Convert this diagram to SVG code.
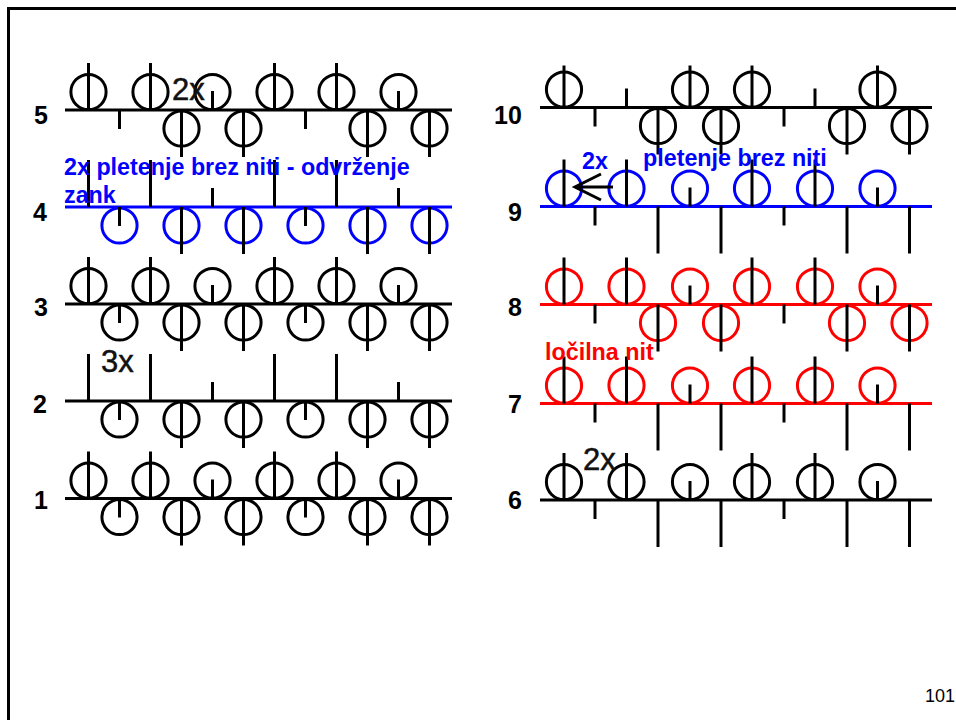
<svg xmlns="http://www.w3.org/2000/svg" width="956" height="720" viewBox="0 0 956 720">
<style>
text{font-family:"Liberation Sans",Arial,sans-serif}
.n{font-size:25px;font-weight:bold;fill:#000}
.x{font-size:31px;fill:#111;stroke:#111;stroke-width:.5}
.lb{font-size:23.3px;font-weight:bold}
.s{stroke:#000;stroke-width:3;fill:none}
.c{fill:none;stroke-width:3}
.k{stroke:#000}.b{stroke:#0000ff}.r{stroke:#ff0000}
.base{stroke-width:3}
</style>
<defs>
<circle id="cu" class="c" cx="0" cy="-18" r="17.6"/>
<circle id="cd" class="c" cx="0" cy="18.5" r="17.6"/>
<line id="ul" class="s" x1="0" y1="0" x2="0" y2="-47"/>
<line id="um" class="s" x1="0" y1="0" x2="0" y2="-42"/>
<line id="us" class="s" x1="0" y1="0" x2="0" y2="-19"/>
<line id="dl" class="s" x1="0" y1="0" x2="0" y2="47"/>
<line id="ds" class="s" x1="0" y1="0" x2="0" y2="19"/>
<g id="luc"><use href="#cu" x="88.5"/><use href="#cu" x="150.5"/><use href="#cu" x="212.5"/><use href="#cu" x="274.5"/><use href="#cu" x="336.5"/><use href="#cu" x="398.5"/></g>
<g id="lus"><use href="#ul" x="88.5"/><use href="#ul" x="150.5"/><use href="#us" x="212.5"/><use href="#ul" x="274.5"/><use href="#ul" x="336.5"/><use href="#us" x="398.5"/></g>
<g id="ldc"><use href="#cd" x="119.5"/><use href="#cd" x="181.5"/><use href="#cd" x="243.5"/><use href="#cd" x="305.5"/><use href="#cd" x="367.5"/><use href="#cd" x="429.5"/></g>
<g id="lds"><use href="#ds" x="119.5"/><use href="#dl" x="181.5"/><use href="#dl" x="243.5"/><use href="#ds" x="305.5"/><use href="#dl" x="367.5"/><use href="#dl" x="429.5"/></g>
<g id="ruc"><use href="#cu" x="564"/><use href="#cu" x="626.5"/><use href="#cu" x="690"/><use href="#cu" x="752"/><use href="#cu" x="815"/><use href="#cu" x="877.5"/></g>
<g id="rus"><use href="#ul" x="564"/><use href="#ul" x="626.5"/><use href="#us" x="690"/><use href="#ul" x="752"/><use href="#ul" x="815"/><use href="#us" x="877.5"/></g>
<g id="rdc"><use href="#cd" x="658"/><use href="#cd" x="721"/><use href="#cd" x="847"/><use href="#cd" x="909.5"/></g>
<g id="rds"><use href="#ds" x="595"/><use href="#dl" x="658"/><use href="#dl" x="721"/><use href="#ds" x="784"/><use href="#dl" x="847"/><use href="#dl" x="909.5"/></g>
</defs>
<rect width="956" height="720" fill="#fff"/>
<path id="frame" d="M8.5 720V8.5H956" fill="none" stroke="#000" stroke-width="3"/>

<g id="row5" transform="translate(0,110)">
<g class="k"><use href="#luc"/><use href="#cd" x="181.5"/><use href="#cd" x="243.5"/><use href="#cd" x="367.5"/><use href="#cd" x="429.5"/><line class="base" x1="65" x2="452" y1="0" y2="0"/></g>
<use href="#lus"/><use href="#lds"/>
</g>
<g id="row4" transform="translate(0,207)">
<g class="b"><use href="#ldc"/><line class="base" x1="65" x2="452" y1="0" y2="0"/></g>
<use href="#lus"/><use href="#lds"/>
</g>
<g id="row3" transform="translate(0,304)">
<g class="k"><use href="#luc"/><use href="#ldc"/><line class="base" x1="65" x2="452" y1="0" y2="0"/></g>
<use href="#lus"/><use href="#lds"/>
</g>
<g id="row2" transform="translate(0,401)">
<g class="k"><use href="#ldc"/><line class="base" x1="65" x2="452" y1="0" y2="0"/></g>
<use href="#lus"/><use href="#lds"/>
</g>
<g id="row1" transform="translate(0,498.5)">
<g class="k"><use href="#luc"/><use href="#ldc"/><line class="base" x1="65" x2="452" y1="0" y2="0"/></g>
<use href="#lus"/><use href="#lds"/>
</g>

<g id="row10" transform="translate(0,107.5)">
<g class="k"><use href="#cu" x="564"/><use href="#cu" x="690"/><use href="#cu" x="752"/><use href="#cu" x="877.5"/><use href="#rdc"/><line class="base" x1="540" x2="932" y1="0" y2="0"/></g>
<use href="#um" x="564"/><use href="#us" x="626.5"/><use href="#um" x="690"/><use href="#um" x="752"/><use href="#us" x="815"/><use href="#um" x="877.5"/>
<use href="#rds"/>
</g>
<g id="row9" transform="translate(0,206.5)">
<g class="b"><use href="#ruc"/><line class="base" x1="540" x2="932" y1="0" y2="0"/></g>
<use href="#rus"/><use href="#rds"/>
</g>
<g id="row8" transform="translate(0,304.5)">
<g class="r"><use href="#ruc"/><use href="#rdc"/><line class="base" x1="540" x2="932" y1="0" y2="0"/></g>
<use href="#rus"/><use href="#rds"/>
</g>
<g id="row7" transform="translate(0,403.5)">
<g class="r"><use href="#ruc"/><line class="base" x1="540" x2="932" y1="0" y2="0"/></g>
<use href="#rus"/><use href="#rds"/>
</g>
<g id="row6" transform="translate(0,500)">
<g class="k"><use href="#ruc"/><line class="base" x1="540" x2="932" y1="0" y2="0"/></g>
<use href="#rus"/><use href="#rds"/>
</g>

<g id="connectors" class="s">
<path d="M613 187H575M601 174L575 187L601 200"/>
</g>

<g id="labels">
<text class="n" x="34" y="124">5</text>
<text class="n" x="33" y="221">4</text>
<text class="n" x="34" y="316">3</text>
<text class="n" x="33" y="413">2</text>
<text class="n" x="34" y="509">1</text>
<text class="n" x="494" y="124">10</text>
<text class="n" x="508" y="221">9</text>
<text class="n" x="508" y="316">8</text>
<text class="n" x="508" y="413">7</text>
<text class="n" x="508" y="509">6</text>
<text class="x" x="172" y="100">2x</text>
<text class="x" x="101" y="372">3x</text>
<text class="x" x="583" y="470">2x</text>
<text class="lb" fill="#0000ff" x="64" y="175">2x pletenje brez niti - odvrženje</text>
<text class="lb" fill="#0000ff" x="64" y="203">zank</text>
<text class="lb" fill="#0000ff" x="582" y="169">2x</text>
<text class="lb" fill="#0000ff" x="643" y="166">pletenje brez niti</text>
<text class="lb" fill="#ff0000" x="545" y="360">ločilna nit</text>
<text x="925" y="702" font-size="18" fill="#000">101</text>
</g>
</svg>
